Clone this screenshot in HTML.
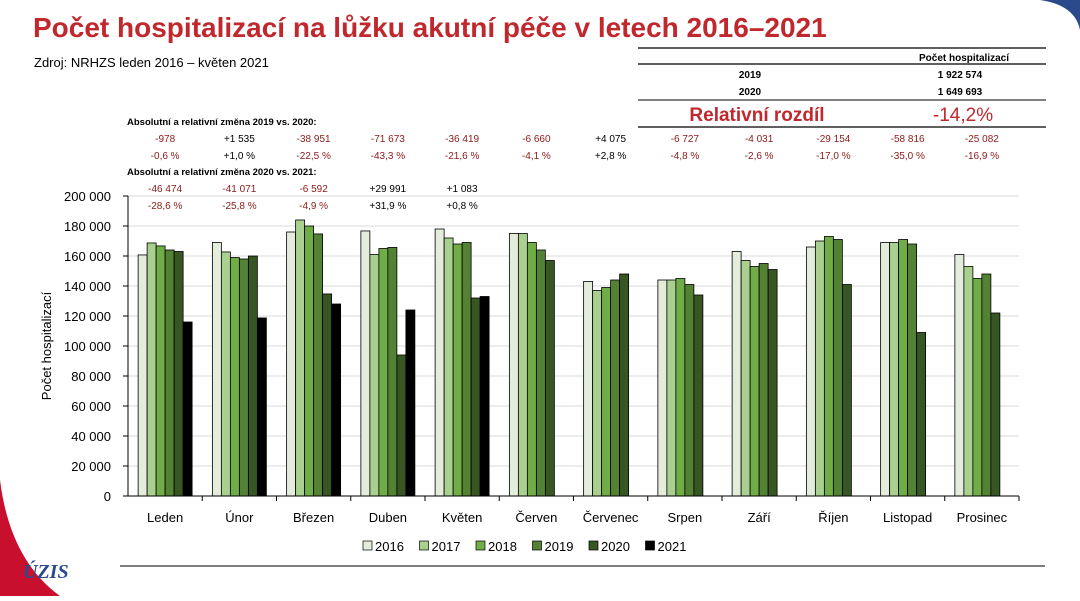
<!DOCTYPE html>
<html><head><meta charset="utf-8">
<style>
body{margin:0;width:1080px;height:596px;background:#fff;overflow:hidden;font-family:"Liberation Sans",sans-serif;}
#wrap{position:relative;width:1080px;height:596px;}
</style></head>
<body><div id="wrap">
<svg id="svg" width="1080" height="596" viewBox="0 0 1080 596" xmlns="http://www.w3.org/2000/svg" font-family="Liberation Sans, sans-serif">
<path d="M1040 0 Q1075 5 1080 30 L1080 0 Z" fill="#2a4a8c"/>
<path d="M0 480 Q10 560 60 596 L0 596 Z" fill="#c8102e"/>
<text x="33" y="37" font-size="28" font-weight="bold" fill="#c0282d">Počet hospitalizací na lůžku akutní péče v letech 2016–2021</text>
<text x="34" y="67" font-size="13" fill="#000">Zdroj: NRHZS leden 2016 – květen 2021</text>
<g font-size="10" font-weight="bold" text-anchor="middle">
<line x1="638" y1="48" x2="1046" y2="48" stroke="#000" stroke-width="1.2"/>
<line x1="638" y1="64" x2="1046" y2="64" stroke="#000" stroke-width="1.2"/>
<line x1="638" y1="100" x2="1046" y2="100" stroke="#000" stroke-width="1"/>
<line x1="638" y1="127" x2="1046" y2="127" stroke="#000" stroke-width="1.2"/>
<text x="964" y="61">Počet hospitalizací</text>
<text x="750" y="78">2019</text><text x="960" y="78">1 922 574</text>
<text x="750" y="95">2020</text><text x="960" y="95">1 649 693</text>
<text x="757" y="121" font-size="19" fill="#c0282d">Relativní rozdíl</text>
<text x="963" y="121" font-size="19" font-weight="normal" fill="#c0282d">-14,2%</text>
</g>
<text x="127" y="125" font-size="9.5" font-weight="bold">Absolutní a relativní změna 2019 vs. 2020:</text>
<text x="127" y="175" font-size="9.5" font-weight="bold">Absolutní a relativní změna 2020 vs. 2021:</text>
<g id="grid"></g><g id="bars"></g><g id="ann"></g><g id="axes"></g><g id="legend"></g>
<text transform="translate(51,346) rotate(-90)" font-size="13" text-anchor="middle">Počet hospitalizací</text>
<line x1="120" y1="566" x2="1045" y2="566" stroke="#555" stroke-width="1.5"/>
<text x="23" y="578" font-size="20" font-weight="bold" font-style="italic" fill="#2a4a8c" font-family="Liberation Serif, serif">ÚZIS</text>
</svg></div>
<script>
const categories=["Leden","Únor","Březen","Duben","Květen","Červen","Červenec","Srpen","Září","Říjen","Listopad","Prosinec"];
const years=["2016","2017","2018","2019","2020","2021"];
const s2016=[160700,169000,176000,176700,178000,175000,143000,144000,163000,166000,169000,161000];
const s2017=[168700,162700,184000,161000,172000,175000,137000,144000,157000,170000,169000,153000];
const s2018=[166700,159000,180000,165000,168000,169000,139000,145000,153000,173000,171000,145000];
const s2019=[164000,158000,174700,165700,169000,164000,144000,141000,155000,171000,168000,148000];
const s2020=[163000,160000,134700,94000,132000,157000,148000,134000,151000,141000,109000,122000];
const s2021=[116000,118700,128000,124000,133000,null,null,null,null,null,null,null];
const yTicks=[0,20000,40000,60000,80000,100000,120000,140000,160000,180000,200000];
const abs1920=["-978","+1 535","-38 951","-71 673","-36 419","-6 660","+4 075","-6 727","-4 031","-29 154","-58 816","-25 082"];
const rel1920=["-0,6 %","+1,0 %","-22,5 %","-43,3 %","-21,6 %","-4,1 %","+2,8 %","-4,8 %","-2,6 %","-17,0 %","-35,0 %","-16,9 %"];
const abs2021=["-46 474","-41 071","-6 592","+29 991","+1 083"];
const rel2021=["-28,6 %","-25,8 %","-4,9 %","+31,9 %","+0,8 %"];
const series=[s2016,s2017,s2018,s2019,s2020,s2021];
const colors=["#e4eddc","#a9d08e","#70ad47","#548235","#375623","#000000"];
const NS="http://www.w3.org/2000/svg";
const X0=128,X1=1019,Y0=496,Y1=196,YMAX=200000;
const bw=(X1-X0)/categories.length;
const y=v=>Y0-(v/YMAX)*(Y0-Y1);
const cx=i=>X0+bw*(i+0.5);
function mk(tag,attrs,parent,txt){const e=document.createElementNS(NS,tag);for(const k in attrs)e.setAttribute(k,attrs[k]);if(txt!==undefined)e.textContent=txt;parent.appendChild(e);return e;}
const G=id=>document.getElementById(id);
yTicks.forEach(t=>{
  const l=mk('line',{x1:X0,x2:X1,y1:y(t),y2:y(t),stroke:t?'#d9d9d9':'#000','stroke-width':1},G('grid'));
  
  
  const tx=mk('text',{x:X0-17,y:y(t)+5,'font-size':13,'text-anchor':'end'},G('axes'),t===0?'0':(t/1000)+' 000');
  
  
  const tk=mk('line',{x1:X0-5,x2:X0,y1:y(t),y2:y(t),stroke:'#000'},G('axes'));
  
  
});
const ya=mk('line',{x1:X0,x2:X0,y1:Y1,y2:Y0,stroke:'#000'},G('axes'));


const barW=9;
categories.forEach((c,i)=>{
  const start=cx(i)-barW*3;
  series.forEach((s,k)=>{
    const v=s[i]; if(v==null) return;
    const r=mk('rect',{x:start+k*barW,y:y(v),width:barW,height:Y0-y(v),fill:colors[k],stroke:'#000','stroke-width':0.8},G('bars'));
    
    
  });
  const tk=mk('line',{x1:X0+bw*(i+1),x2:X0+bw*(i+1),y1:Y0,y2:Y0+5,stroke:'#000'},G('axes'));
  
  
  const lb=mk('text',{x:cx(i),y:522,'font-size':13,'text-anchor':'middle'},G('axes'),c);
  
  
  const col=v=>v.startsWith('+')?'#000':'#8b1a1a';
  const a=mk('text',{x:cx(i),y:142,'font-size':10,'text-anchor':'middle',fill:col(abs1920[i])},G('ann'),abs1920[i]);
  
  
  const b=mk('text',{x:cx(i),y:159,'font-size':10,'text-anchor':'middle',fill:col(rel1920[i])},G('ann'),rel1920[i]);
  
  
  if(i<abs2021.length){
    const d=mk('text',{x:cx(i),y:192,'font-size':10,'text-anchor':'middle',fill:col(abs2021[i])},G('ann'),abs2021[i]);
    
    
    const e=mk('text',{x:cx(i),y:209,'font-size':10,'text-anchor':'middle',fill:col(rel2021[i])},G('ann'),rel2021[i]);
    
    
  }
});
const xa=mk('line',{x1:X0,x2:X1,y1:Y0,y2:Y0,stroke:'#000'},G('axes'));


years.forEach((yr,k)=>{
  const lx=363+k*56.5;
  const g=mk('g',{},G('legend'));
  
  
  mk('rect',{x:lx,y:541,width:9,height:9,fill:colors[k],stroke:'#000','stroke-width':0.7},g);
  mk('text',{x:lx+12,y:551,'font-size':13},g,yr);
});
</script></body></html>
